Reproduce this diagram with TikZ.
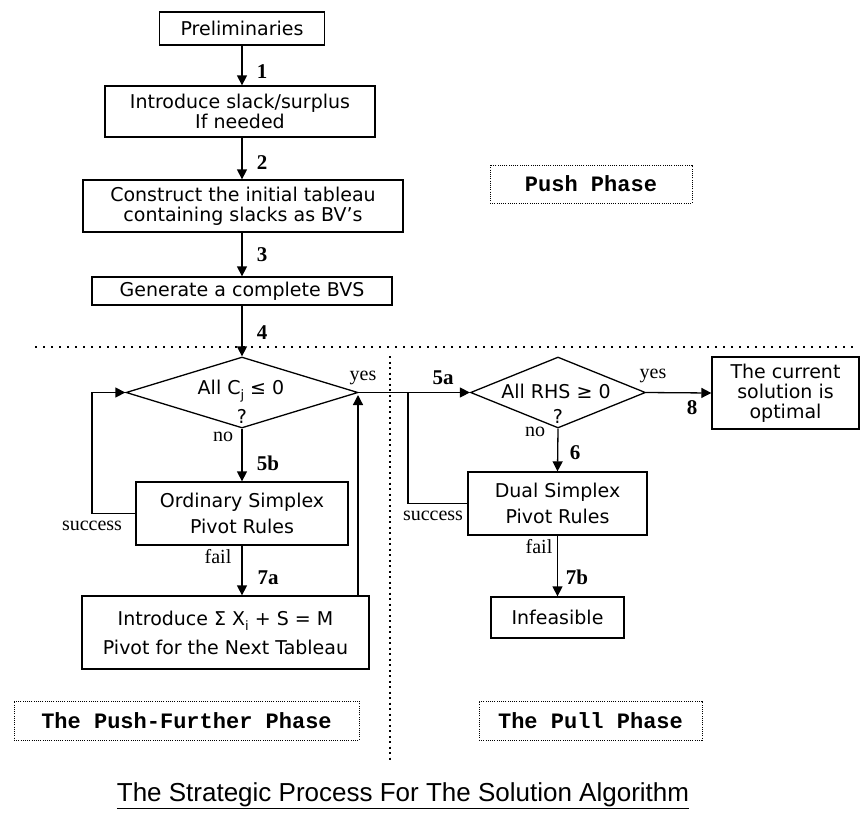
\documentclass[tikz,border=0pt]{standalone}
\usepackage{fontspec}
\setmainfont{DejaVu Sans}
\newfontfamily\labelserif{Liberation Serif}
\newfontfamily\phasemono{Liberation Mono}
\newfontfamily\captionsans{Liberation Sans}
\usetikzlibrary{arrows.meta,shapes.geometric}

\newcommand\boxfont{\fontsize{19}{20}\selectfont}
\newcommand\branchfont{\labelserif\fontsize{20}{20}\selectfont}
\newcommand\stepfont{\labelserif\bfseries\fontsize{21}{21}\selectfont}
\newcommand\phasefont{\phasemono\bfseries\fontsize{22}{22}\selectfont}
\newcommand\subidx[1]{\raisebox{-5pt}{\fontsize{13}{13}\selectfont #1}}

\begin{document}
\begin{tikzpicture}[x=1pt,y=-1pt,
  flowbox/.style={draw, line width=1.3pt, inner sep=0pt, align=center, font=\boxfont},
  decision/.style={draw, line width=1.3pt, shape=diamond, inner sep=0pt},
  flow/.style={line width=1.3pt, -{Triangle[length=10pt,width=10pt]}},
  link/.style={line width=1.3pt},
  steplabel/.style={font=\stepfont, inner sep=0pt},
  branchlabel/.style={font=\branchfont, inner sep=0pt},
  phasebox/.style={draw, line width=1pt, dash pattern=on 1pt off 1.2pt, inner sep=0pt, font=\phasefont},
  hsep/.style={line width=2pt, dash pattern=on 2pt off 6pt},
  vsep/.style={line width=2pt, dash pattern=on 2pt off 3.5pt}
]
\useasboundingbox (0,0) rectangle (862,823);

% --- push phase: set-up steps
\node[flowbox, minimum width=165, minimum height=33] (prelim) at (242,28.5) {Preliminaries};
\node[flowbox, minimum width=270, minimum height=51] (slack) at (240,111.5)
  {Introduce slack/surplus\\If needed};
\node[flowbox, minimum width=320, minimum height=52] (tableau) at (243,206)
  {Construct the initial tableau\\containing slacks as BV's};
\node[flowbox, minimum width=300, minimum height=28] (bvs) at (242,291)
  {Generate a complete BVS};

\draw[flow] (prelim.south) -- (prelim.south |- slack.north);
\draw[flow] (slack.south -| prelim.south) -- (prelim.south |- tableau.north);
\draw[flow] (tableau.south -| prelim.south) -- (prelim.south |- bvs.north);
\node[steplabel] (s1) at (262,72) {1};
\node[steplabel] (s2) at (262,163) {2};
\node[steplabel] (s3) at (262,255) {3};
\node[steplabel] (s4) at (262,333) {4};

% --- phase separators
\coordinate (hl) at (35,347);
\coordinate (hr) at (858,347);
\coordinate (vt) at (390,356);
\coordinate (vb) at (390,762);
\draw[hsep] (hl) -- (hr);
\draw[vsep] (vt) -- (vb);

% --- push-further phase
\node[decision, minimum width=232, minimum height=71] (cj) at (242,392.5) {};
\node[font=\boxfont, inner sep=0pt] (cjtext) at (241,391) {All C\subidx{j} ≤ 0};
\node[font=\boxfont, inner sep=0pt] (cjq) at (242,416) {?};
\node[flowbox, minimum width=212, minimum height=63] (ordinary) at (242,513.5)
  {Ordinary Simplex\\[6pt]Pivot Rules};
\node[flowbox, minimum width=287, minimum height=73] (bigm) at (225.5,632.5)
  {Introduce Σ X\subidx{i} + S = M\\[9pt]Pivot for the Next Tableau};

\draw[flow] (bvs.south) -- (cj.north);
\draw[flow] (cj.south) -- (ordinary.north);
\draw[flow] (ordinary.west) -- (92,513.5) -- (92,392.5) -- (cj.west);
\draw[flow] (ordinary.south) -- (ordinary.south |- bigm.north);
\coordinate (back) at (358,395);
\draw[flow] (bigm.north -| back) -- (back);

\node[branchlabel] (no1) at (223,437) {no};
\node[steplabel] (s5b) at (268,463) {5b};
\node[branchlabel] (succ1) at (92,526) {success};
\node[branchlabel] (fail1) at (218,557) {fail};
\node[steplabel] (s7a) at (268,578) {7a};
\node[branchlabel] (yes1) at (363,378) {yes};

% --- pull phase
\node[decision, minimum width=175, minimum height=71] (rhs) at (558,392.5) {};
\node[font=\boxfont, inner sep=0pt] (rhstext) at (556,391) {All RHS ≥ 0};
\node[font=\boxfont, inner sep=0pt] (rhsq) at (558,416) {?};
\node[flowbox, minimum width=147, minimum height=72] (optimal) at (785.5,393)
  {The current\\solution is\\optimal};
\node[flowbox, minimum width=179, minimum height=63] (dual) at (557.5,503.5)
  {Dual Simplex\\[6pt]Pivot Rules};
\node[flowbox, minimum width=133, minimum height=41] (infeas) at (557.5,617.5)
  {Infeasible};

\draw[flow] (cj.east) -- (rhs.west);
\draw[link] (dual.west) -- (408,503.5) -- (408,392.5);
\draw[flow] (rhs.east) -- (optimal.west);
\draw[flow] (rhs.south) -- (dual.north);
\draw[flow] (dual.south) -- (infeas.north);

\node[steplabel] (s5a) at (443,378) {5a};
\node[branchlabel] (yes2) at (653,376) {yes};
\node[steplabel] (s8) at (692,408) {8};
\node[branchlabel] (no2) at (535,432) {no};
\node[steplabel] (s6) at (575,453) {6};
\node[branchlabel] (succ2) at (433,516) {success};
\node[branchlabel] (fail2) at (539,547) {fail};
\node[steplabel] (s7b) at (577,577) {7b};

% --- phase captions
\node[phasebox, minimum width=202, minimum height=38] (pushcap) at (591,184) {Push Phase};
\node[phasebox, minimum width=345, minimum height=39] (furthercap) at (186.5,720.5) {The Push-Further Phase};
\node[phasebox, minimum width=223, minimum height=39] (pullcap) at (590.5,720.5) {The Pull Phase};

% --- title
\node[font=\captionsans\fontsize{26}{26}\selectfont, inner sep=0pt] (title) at (403,796)
  {\underline{The Strategic Process For The Solution Algorithm}};
\end{tikzpicture}
\end{document}
